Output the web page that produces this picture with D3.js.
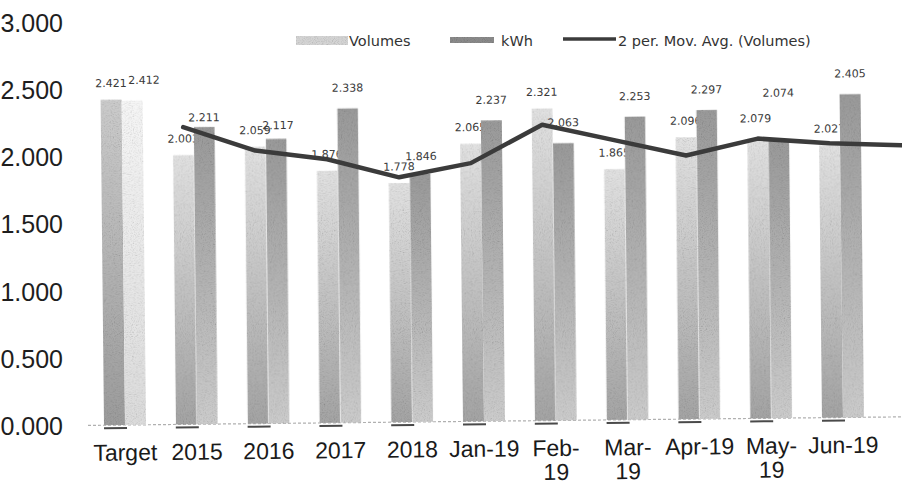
<!DOCTYPE html>
<html>
<head>
<meta charset="utf-8">
<script src="https://cdn.jsdelivr.net/npm/d3@7"></script>
<style>
  html, body { margin: 0; padding: 0; background: #fff; }
  svg { display: block; }
</style>
</head>
<body>
<div id="chart"></div>
<script>
// Chart data
const categories = ['Target', '2015', '2016', '2017', '2018', 'Jan-19', 'Feb-19', 'Mar-19', 'Apr-19', 'May-19', 'Jun-19', 'Jul-19'];
const tickLabels = ['Target', '2015', '2016', '2017', '2018', 'Jan-19', 'Feb-\n19', 'Mar-\n19', 'Apr-19', 'May-\n19', 'Jun-19', ''];
const volumes = [2.421, 2.003, 2.059, 1.876, 1.778, 2.065, 2.321, 1.865, 2.096, 2.079, 2.027, null];
const kwh = [2.412, 2.211, 2.117, 2.338, 1.846, 2.237, 2.063, 2.253, 2.297, 2.074, 2.405, null];
const movingAvg = [null, 2.21, 2.03, 1.96, 1.82, 1.92, 2.20, 2.08, 1.96, 2.08, 2.04, 2.02];
const yTicks = [0, 0.5, 1, 1.5, 2, 2.5, 3];
const seriesNames = ['Volumes', 'kWh'];

// Hand-placed data label nudges (Excel labels moved by hand)
const labelNudge = {
    'Target|kWh': [12, 0],
    '2015|kWh': [0, 11],
    '2016|kWh': [2, 7],
    '2018|kWh': [1, 3],
    'May-19|kWh': [0, -26],
    'May-19|Volumes': [-2, -4]
};

const width = 902, height = 486;
const fmt = d3.format('.3f');

const svg = d3.select('#chart').append('svg')
    .attr('width', width)
    .attr('height', height);

const defs = svg.append('defs');

// grainy scan texture
const grain = defs.append('filter').attr('id', 'grain')
    .attr('x', 0).attr('y', 0).attr('width', 1).attr('height', 1);
grain.append('feTurbulence')
    .attr('type', 'fractalNoise').attr('baseFrequency', 0.9)
    .attr('numOctaves', 2).attr('seed', 7).attr('result', 'noise');
grain.append('feColorMatrix')
    .attr('in', 'noise').attr('type', 'saturate').attr('values', 0).attr('result', 'gray');
const ct = grain.append('feComponentTransfer').attr('in', 'gray').attr('result', 'grayAdj');
['feFuncR', 'feFuncG', 'feFuncB'].forEach(f => ct.append(f).attr('type', 'linear').attr('slope', 1.6).attr('intercept', 0.12));
grain.append('feBlend').attr('in', 'SourceGraphic').attr('in2', 'grayAdj').attr('mode', 'multiply').attr('result', 'blend');
grain.append('feComposite').attr('in', 'blend').attr('in2', 'SourceGraphic').attr('operator', 'in');

function vGradient(id, top, bottom) {
    const g = defs.append('linearGradient').attr('id', id)
        .attr('x1', 0).attr('y1', 0).attr('x2', 0).attr('y2', 1);
    g.append('stop').attr('offset', '0%').attr('stop-color', top);
    g.append('stop').attr('offset', '100%').attr('stop-color', bottom);
}
vGradient('volGrad', '#e2e2e2', '#a4a4a4');
vGradient('kwhGrad', '#9a9a9a', '#cccccc');
vGradient('tVolGrad', '#cccccc', '#9c9c9c');
vGradient('tKwhGrad', '#f6f6f6', '#dcdcdc');

// Scales
const x0 = d3.scaleBand()
    .domain(categories)
    .range([89.1, 950.7])
    .paddingInner(0.415)
    .paddingOuter(0.2075);

const x1 = d3.scaleBand()
    .domain(seriesNames)
    .range([0, x0.bandwidth()]);

const y = d3.scaleLinear()
    .domain([0, 3])
    .range([425, 21.5]);

// Y axis labels (no axis line)
svg.append('g')
    .selectAll('text')
    .data(yTicks)
    .enter()
    .append('text')
    .attr('x', 63)
    .attr('y', d => y(d) + 1)
    .attr('text-anchor', 'end')
    .attr('dominant-baseline', 'central')
    .style('font-family', '"Liberation Sans", Arial, sans-serif')
    .style('font-size', '25px')
    .style('fill', '#1e1e1e')
    .text(d => d3.format('.3f')(d));

// Plot: slightly rotated like the scan
const plot = svg.append('g')
    .attr('transform', 'rotate(-0.6, 125, 425)');

// dotted baseline
plot.append('line')
    .attr('x1', 88).attr('x2', 960)
    .attr('y1', y(0)).attr('y2', y(0))
    .attr('stroke', '#b0b0b0')
    .attr('stroke-width', 1.2)
    .attr('stroke-dasharray', '3,2');

const rows = categories.map((c, i) => ({ cat: c, i, Volumes: volumes[i], kWh: kwh[i] }))
    .filter(d => d.Volumes !== null);

function barFill(d, s) {
    if (d.cat === 'Target') return s === 'Volumes' ? 'url(#tVolGrad)' : 'url(#tKwhGrad)';
    return s === 'Volumes' ? 'url(#volGrad)' : 'url(#kwhGrad)';
}

function drawBars(s) {
    plot.append('g')
        .selectAll('rect')
        .data(rows)
        .enter()
        .append('rect')
        .attr('x', d => x0(d.cat) + x1(s))
        .attr('y', d => y(d[s]))
        .attr('width', x1.bandwidth())
        .attr('height', d => y(0) - y(d[s]))
        .attr('fill', d => barFill(d, s))
        .attr('filter', 'url(#grain)');
}

function drawLabels(s, offset) {
    plot.append('g')
        .selectAll('text')
        .data(rows)
        .enter()
        .append('text')
        .attr('x', d => x0(d.cat) + x1(s) + x1.bandwidth() / 2 + ((labelNudge[d.cat + '|' + s] || [0, 0])[0]))
        .attr('y', d => y(d[s]) - offset + ((labelNudge[d.cat + '|' + s] || [0, 0])[1]))
        .attr('text-anchor', 'middle')
        .attr('dominant-baseline', 'central')
        .style('font-family', '"DejaVu Sans", sans-serif')
        .style('font-size', '11px')
        .style('fill', '#3a3a3a')
        .text(d => fmt(d[s]));
}

// Volumes bars + labels first so kWh bars cover the overlapping digits
drawBars('Volumes');
drawLabels('Volumes', 16);
drawBars('kWh');
drawLabels('kWh', 20);

// dark underline below each Volumes bar
plot.append('g')
    .selectAll('rect')
    .data(rows)
    .enter()
    .append('rect')
    .attr('x', d => x0(d.cat) + x1('Volumes'))
    .attr('y', y(0) + 2)
    .attr('width', x1.bandwidth() + 2)
    .attr('height', 2)
    .attr('fill', '#4a4a4a');

// 2 per. moving average line
const maPoints = categories.map((c, i) => ({ cat: c, v: movingAvg[i] }))
    .filter(d => d.v !== null);

const line = d3.line()
    .x(d => x0(d.cat) + x1('Volumes') + x1.bandwidth() / 2)
    .y(d => y(d.v));

plot.append('path')
    .datum(maPoints)
    .attr('d', line)
    .attr('fill', 'none')
    .attr('stroke', '#3b3b3b')
    .attr('stroke-width', 4.5)
    .attr('stroke-linejoin', 'round')
    .attr('stroke-linecap', 'round');

// X tick labels (some wrapped on two lines)
const xl = plot.append('g')
    .selectAll('text')
    .data(categories.map((c, i) => ({ cat: c, label: tickLabels[i] })))
    .enter()
    .append('text')
    .attr('text-anchor', 'middle')
    .style('font-family', '"Liberation Sans", Arial, sans-serif')
    .style('font-size', '23px')
    .style('fill', '#1a1a1a');

xl.selectAll('tspan')
    .data(d => d.label.split('\n').map((t, k) => ({ t, k, cat: d.cat })))
    .enter()
    .append('tspan')
    .attr('x', d => x0(d.cat) + x0.bandwidth() / 2)
    .attr('y', d => y(0) + 35.5 + d.k * 24)
    .text(d => d.t);

// Legend
const legend = svg.append('g');
legend.append('rect')
    .attr('x', 296).attr('y', 36).attr('width', 52).attr('height', 9)
    .attr('fill', '#d4d4d4').attr('filter', 'url(#grain)');
legend.append('text')
    .attr('x', 349).attr('y', 41)
    .text('Volumes');
legend.append('rect')
    .attr('x', 450).attr('y', 37).attr('width', 44).attr('height', 6)
    .attr('fill', '#8a8a8a').attr('filter', 'url(#grain)');
legend.append('text')
    .attr('x', 501).attr('y', 41)
    .text('kWh');
legend.append('line')
    .attr('x1', 563).attr('x2', 616).attr('y1', 39).attr('y2', 39)
    .attr('stroke', '#3b3b3b').attr('stroke-width', 3.5);
legend.append('text')
    .attr('x', 618).attr('y', 41)
    .text('2 per. Mov. Avg. (Volumes)');
legend.selectAll('text')
    .attr('dominant-baseline', 'central')
    .style('font-family', '"DejaVu Sans", sans-serif')
    .style('font-size', '14.5px')
    .style('fill', '#333');
</script>
</body>
</html>
